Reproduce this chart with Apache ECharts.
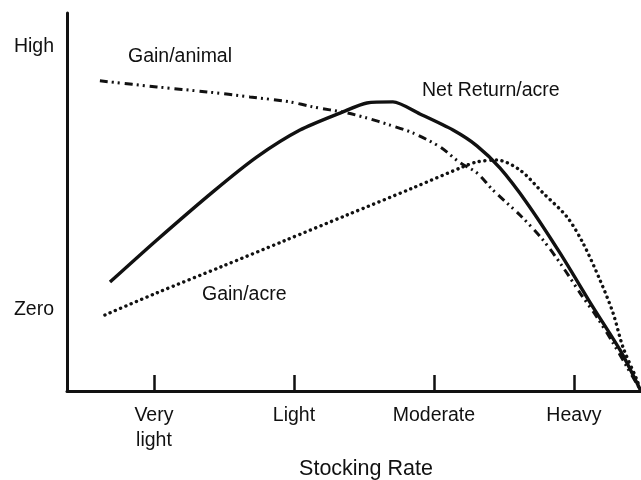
<!DOCTYPE html>
<html>
<head>
<meta charset="utf-8">
<script src="https://cdn.jsdelivr.net/npm/echarts@6/dist/echarts.min.js"></script>
<style>
html,body{margin:0;padding:0;background:#fff;}
#chart{width:641px;height:480px;}
</style>
</head>
<body>
<div id="chart"></div>
<script>
// Tick labels on the stocking-rate axis (positions 1..4)
var tickLabels = ['Very\nlight', 'Light', 'Moderate', 'Heavy'];
var tickPositions = [1, 2, 3, 4];
// Y axis labels (value 0 = Zero, 10 = High)
var yTickValues = [0, 10];
var yTickLabels = {0: 'Zero', 10: 'High'};

// Net Return/acre
var netX = [0.686, 1.021, 1.421, 1.736, 2.043, 2.350, 2.521, 2.707, 2.900, 3.136, 3.307, 3.471, 3.664, 3.900, 4.136, 4.329, 4.471];
var netY = [1.06, 2.66, 4.49, 5.82, 6.84, 7.53, 7.87, 7.91, 7.45, 6.84, 6.24, 5.40, 4.07, 2.17, 0.11, -1.52, -3.00];

// Gain/animal
var animalX = [0.614, 1.021, 1.379, 1.686, 1.971, 2.136, 2.379, 2.521, 2.686, 2.850, 3.043, 3.186, 3.307, 3.421, 3.614, 3.779, 3.921, 4.043, 4.164, 4.279, 4.379, 4.471];
var animalY = [8.71, 8.48, 8.29, 8.10, 7.91, 7.72, 7.49, 7.30, 7.03, 6.73, 6.20, 5.60, 5.21, 4.56, 3.61, 2.66, 1.63, 0.65, -0.27, -1.25, -2.17, -3.00];

// Gain/acre
var acreX = [0.650, 1.021, 1.493, 1.936, 2.379, 2.850, 3.207, 3.307, 3.450, 3.614, 3.779, 3.950, 4.064, 4.186, 4.279, 4.350, 4.450, 4.471];
var acreY = [-0.19, 0.65, 1.67, 2.64, 3.61, 4.64, 5.44, 5.63, 5.70, 5.32, 4.45, 3.54, 2.55, 1.14, -0.11, -1.41, -2.66, -3.00];

function pairs(xs, ys) { return xs.map(function (x, i) { return [x, ys[i]]; }); }

var ink = '#111';
var font = 'Liberation Sans, Arial, Helvetica, sans-serif';

var chart = echarts.init(document.getElementById('chart'));
chart.setOption({
  animation: false,
  backgroundColor: '#fff',
  grid: {left: 67, right: 0, top: 13, bottom: 89, containLabel: false, outerBoundsMode: 'none'},
  xAxis: {
    type: 'value',
    min: 0.379, max: 4.479,
    name: 'Stocking Rate',
    nameLocation: 'middle',
    nameGap: 67,
    nameTextStyle: {color: ink, fontSize: 21.5, fontFamily: font, padding: [0, 0, 0, 24]},
    axisLine: {show: true, onZero: false, lineStyle: {color: ink, width: 3}},
    axisTick: {show: true, inside: true, length: 16, customValues: tickPositions, lineStyle: {color: ink, width: 2.5}},
    axisLabel: {
      customValues: tickPositions,
      margin: 12,
      color: ink, fontSize: 19.5, fontFamily: font, lineHeight: 25,
      formatter: function (v) { return tickLabels[Math.round(v) - 1] || ''; }
    },
    splitLine: {show: false}
  },
  yAxis: {
    type: 'value',
    min: -3.08, max: 11.29,
    axisLine: {show: true, onZero: false, lineStyle: {color: ink, width: 3}},
    axisTick: {show: false},
    axisLabel: {
      customValues: yTickValues,
      margin: 13,
      color: ink, fontSize: 19.5, fontFamily: font,
      formatter: function (v) { return yTickLabels[Math.round(v)] || ''; }
    },
    splitLine: {show: false}
  },
  series: [
    {
      name: 'Net Return/acre', type: 'line', showSymbol: false, smooth: 0.25,
      data: pairs(netX, netY),
      lineStyle: {color: ink, width: 3.4, type: 'solid'}
    },
    {
      name: 'Gain/animal', type: 'line', showSymbol: false, smooth: 0.3,
      data: pairs(animalX, animalY),
      lineStyle: {color: ink, width: 3, type: [8, 4, 2, 4, 2, 5], cap: 'butt'}
    },
    {
      name: 'Gain/acre', type: 'line', showSymbol: false, smooth: 0.3,
      data: pairs(acreX, acreY),
      lineStyle: {color: ink, width: 3.4, type: [0.1, 5.6], cap: 'round'}
    }
  ],
  graphic: [
    {type: 'text', left: 128, top: 47, style: {text: 'Gain/animal', fill: ink, font: '19.5px ' + font}},
    {type: 'text', left: 422, top: 81, style: {text: 'Net Return/acre', fill: ink, font: '19.5px ' + font}},
    {type: 'text', left: 202, top: 285, style: {text: 'Gain/acre', fill: ink, font: '19.5px ' + font}}
  ]
});
</script>
</body>
</html>
